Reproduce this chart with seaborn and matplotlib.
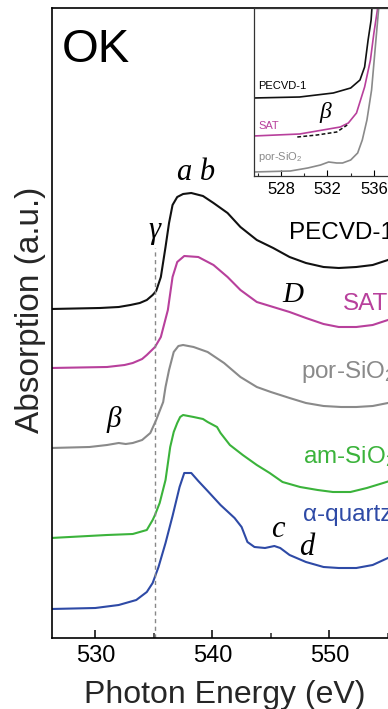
import numpy as np
import pandas as pd
import matplotlib
matplotlib.use("Agg")
import matplotlib.pyplot as plt
import seaborn as sns

# ---------------- data ----------------
pecvd_e = [526.2, 530.4, 532.0, 533.0, 533.8, 534.4, 534.9, 535.2, 535.6, 536.0, 536.3, 536.6, 537.0,
           537.5, 538.2, 539.2, 540.1, 541.3, 542.4, 543.8, 545.2, 546.6, 548.0, 549.5, 550.8,
           552.3, 553.7, 555.0, 556.5]
pecvd_v = [3.29, 3.30, 3.31, 3.33, 3.35, 3.38, 3.43, 3.47, 3.61, 3.91, 4.15, 4.33, 4.41,
           4.44, 4.45, 4.42, 4.35, 4.25, 4.11, 3.98, 3.90, 3.81, 3.75, 3.71, 3.70,
           3.71, 3.73, 3.78, 3.84]

sat_e = [526.2, 531.0, 532.5, 533.2, 534.0, 534.4, 535.1, 535.6, 536.2, 536.6, 537.0, 537.6,
         538.8, 540.1, 541.3, 542.4, 543.8, 545.2, 546.6, 548.0, 549.5, 550.8, 552.3, 553.7,
         555.0, 556.5]
sat_v = [2.70, 2.71, 2.73, 2.75, 2.79, 2.83, 2.91, 3.01, 3.28, 3.61, 3.76, 3.82,
         3.81, 3.73, 3.61, 3.48, 3.36, 3.31, 3.26, 3.20, 3.14, 3.11, 3.11, 3.13,
         3.18, 3.24]

por_e = [526.2, 529.5, 531.0, 532.0, 532.6, 533.2, 534.0, 534.7, 535.2, 535.8, 536.0, 536.3,
         536.7, 537.1, 537.5, 538.4, 539.6, 541.0, 542.4, 543.8, 545.0, 546.6, 548.0, 549.5,
         551.0, 552.3, 553.7, 555.0, 556.5]
por_v = [1.90, 1.91, 1.93, 1.95, 1.94, 1.95, 1.98, 2.05, 2.18, 2.36, 2.51, 2.68,
         2.86, 2.92, 2.93, 2.91, 2.86, 2.75, 2.61, 2.51, 2.46, 2.40, 2.35, 2.32,
         2.31, 2.31, 2.32, 2.35, 2.40]

am_e = [526.2, 531.0, 533.2, 534.4, 534.9, 535.1, 535.5, 536.0, 536.4, 536.7, 537.0, 537.25,
        537.5, 538.4, 539.2, 539.6, 540.4, 540.7, 541.5, 542.6, 543.8, 544.9, 546.0, 547.5,
        549.0, 550.3, 551.8, 553.2, 554.6, 556.5]
am_v = [1.00, 1.03, 1.04, 1.08, 1.18, 1.23, 1.35, 1.58, 1.91, 2.06, 2.15, 2.21,
        2.23, 2.21, 2.19, 2.16, 2.11, 2.05, 1.93, 1.83, 1.73, 1.65, 1.56, 1.51,
        1.48, 1.46, 1.46, 1.50, 1.55, 1.62]

qz_e = [526.2, 530.0, 532.0, 533.5, 534.4, 534.9, 535.4, 536.0, 536.6, 537.2, 537.6, 538.2,
        538.8, 539.6, 540.7, 541.9, 542.5, 543.0, 543.6, 544.5, 545.3, 545.8, 546.6, 548.0,
        549.5, 550.8, 552.3, 553.7, 555.0, 556.5]
qz_v = [0.29, 0.30, 0.33, 0.38, 0.46, 0.55, 0.71, 0.95, 1.22, 1.51, 1.65, 1.65,
        1.57, 1.47, 1.33, 1.20, 1.11, 0.96, 0.91, 0.90, 0.92, 0.90, 0.83, 0.76,
        0.71, 0.70, 0.70, 0.73, 0.80, 0.88]

gamma_energy = 535.1
gamma_top = 3.90

# inset (pre-edge region)
in_pecvd_e = [525.6, 529.6, 532.5, 534.0, 534.8, 535.2, 535.5, 535.76, 535.9, 536.0]
in_pecvd_v = [0.78, 0.79, 0.83, 0.88, 0.96, 1.09, 1.36, 1.56, 1.80, 1.95]
in_sat_e = [525.6, 529.6, 531.6, 533.1, 533.8, 534.5, 535.2, 535.7, 536.0, 536.3, 536.4]
in_sat_v = [0.40, 0.42, 0.46, 0.49, 0.53, 0.63, 0.89, 1.16, 1.43, 1.66, 1.80]
in_fit_e = [529.4, 531.1, 532.8, 533.7]
in_fit_v = [0.39, 0.41, 0.44, 0.51]
in_por_e = [525.6, 528.8, 530.3, 531.4, 532.1, 532.8, 533.3, 534.0, 534.6, 535.0, 535.4,
            535.8, 536.1, 536.4, 536.6]
in_por_v = [0.04, 0.05, 0.08, 0.11, 0.14, 0.13, 0.13, 0.16, 0.23, 0.36, 0.56,
            0.86, 1.26, 1.66, 1.85]

main_ticks = [530, 540, 550]
inset_ticks = [528, 532, 536]

C_BLACK = "#111111"
C_SAT = "#b8409c"
C_POR = "#8a8a8a"
C_AM = "#3bb33b"
C_QZ = "#2e4aa6"

# ---------------- style ----------------
sns.set_theme(style="ticks")
plt.rcParams["font.family"] = ["Liberation Sans", "DejaVu Sans"]
plt.rcParams["mathtext.fontset"] = "custom"
plt.rcParams["mathtext.rm"] = "Liberation Sans"
plt.rcParams["mathtext.it"] = "Liberation Sans:italic"

W, H = 388, 709
fig = plt.figure(figsize=(W / 100, H / 100), dpi=100)


def fx(px):
    return px / W


def fy(py):
    return 1 - py / H


# main axes (extends past the right edge, as in the cropped original)
ax = fig.add_axes([fx(52), fy(638), fx(423) - fx(52), fy(8) - fy(638)])
ax.set_xlim(526.3, 558.0)
ax.set_ylim(0, 6.30)

for e, v, c in [(pecvd_e, pecvd_v, C_BLACK), (sat_e, sat_v, C_SAT), (por_e, por_v, C_POR),
                (am_e, am_v, C_AM), (qz_e, qz_v, C_QZ)]:
    sns.lineplot(x=e, y=v, ax=ax, color=c, lw=1.5, sort=False, estimator=None)

ax.vlines(gamma_energy, 0, gamma_top, colors="#888888", linestyles=(0, (3, 2.5)), lw=1.0)

ax.set_xticks(main_ticks)
ax.set_xticklabels([str(t) for t in main_ticks])
ax.xaxis.set_minor_locator(matplotlib.ticker.MultipleLocator(5))
ax.tick_params(axis="x", which="major", direction="in", length=6, width=1.1,
               labelsize=17, pad=5, colors="black")
ax.tick_params(axis="x", which="minor", direction="in", length=3.5, width=1.1)
ax.tick_params(axis="x", which="both", top=False)
ax.set_yticks([])
for s in ["left", "bottom", "top", "right"]:
    ax.spines[s].set_color("black")
    ax.spines[s].set_linewidth(1.2)
ax.set_xlabel("")
ax.set_ylabel("")

# inset
ax2 = fig.add_axes([fx(254), fy(176), fx(397) - fx(254), fy(8) - fy(176)])
ax2.set_xlim(525.67, 537.99)
ax2.set_ylim(0, 1.68)
ax2.set_facecolor("white")
sns.lineplot(x=in_pecvd_e, y=in_pecvd_v, ax=ax2, color=C_BLACK, lw=1.2, sort=False, estimator=None)
sns.lineplot(x=in_sat_e, y=in_sat_v, ax=ax2, color=C_SAT, lw=1.2, sort=False, estimator=None)
sns.lineplot(x=in_por_e, y=in_por_v, ax=ax2, color=C_POR, lw=1.2, sort=False, estimator=None)
ax2.plot(in_fit_e, in_fit_v, color=C_BLACK, lw=1.1, ls=(0, (2.5, 1.5)))
ax2.set_xticks(inset_ticks)
ax2.set_xticklabels([str(t) for t in inset_ticks])
ax2.xaxis.set_minor_locator(matplotlib.ticker.FixedLocator([526, 530, 534]))
ax2.tick_params(axis="x", which="major", direction="in", length=4, width=0.8,
                labelsize=12, pad=4, colors="black")
ax2.tick_params(axis="x", which="minor", direction="in", length=2.5, width=0.8)
ax2.set_yticks([])
for s in ["left", "bottom", "top", "right"]:
    ax2.spines[s].set_color("#333333")
    ax2.spines[s].set_linewidth(0.9)
ax2.set_xlabel("")
ax2.set_ylabel("")

# ---------------- texts ----------------
SERIF = ["Liberation Serif", "DejaVu Serif"]


def t(px, py, s, size, color="black", serif=False, **kw):
    if serif:
        fig.text(fx(px), fy(py), s, fontsize=size, color=color, family=SERIF,
                 style="italic", va="baseline", ha="left", **kw)
    else:
        fig.text(fx(px), fy(py), s, fontsize=size, color=color, va="baseline", ha="left", **kw)


t(62, 62, "OK", 34)
t(177, 180, "a b", 22, serif=True)
t(148, 238, "γ", 22, serif=True)
t(289, 239, "PECVD-1", 17.5)
t(282, 302, "D", 21, serif=True)
t(343, 310, "SAT", 17.5, color=C_SAT)
t(301, 378, "por-SiO$_2$", 17.5, color=C_POR)
t(106, 427, "β", 21, serif=True)
t(303, 463, "am-SiO$_2$", 17.5, color=C_AM)
t(303, 521, "α-quartz", 17.5, color=C_QZ)
t(271, 537, "c", 22, serif=True)
t(299, 555, "d", 22, serif=True)

t(258, 89, "PECVD-1", 8)
t(258, 129, "SAT", 8, color=C_SAT)
t(258, 160, "por-SiO$_2$", 8, color=C_POR)
t(319, 118, "β", 17, serif=True)

fig.text(fx(225), fy(703), "Photon Energy (eV)", fontsize=23, ha="center", va="baseline")
fig.text(fx(31), fy(310), "Absorption (a.u.)", fontsize=24, ha="center", va="center",
         rotation=90)

fig.savefig("out.png", dpi=100)
